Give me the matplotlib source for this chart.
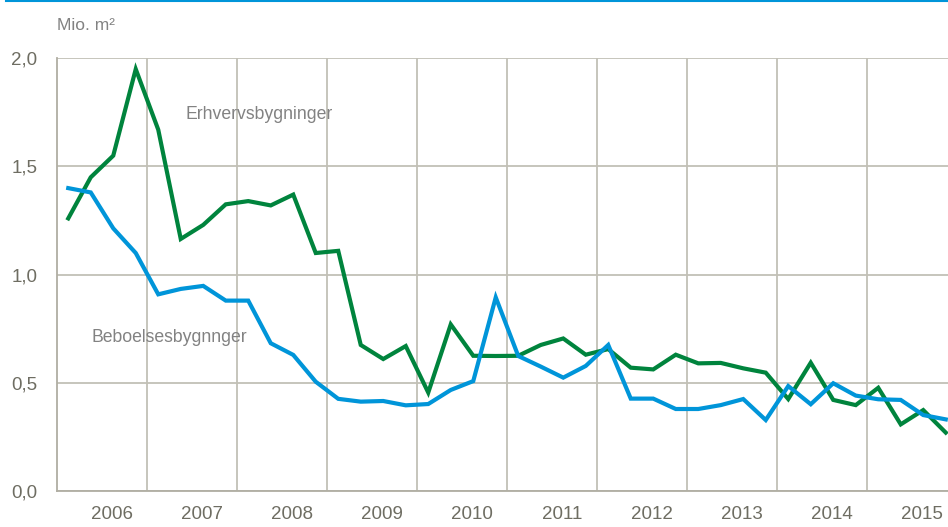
import numpy as np
import matplotlib
matplotlib.use('Agg')
import matplotlib.pyplot as plt
from matplotlib.lines import Line2D

# quarterly values, 2006 Q1 .. 2015 Q4 (mio. m2)
years = list(range(2006, 2016))
erhverv = [1.26, 1.45, 1.55, 1.95, 1.67, 1.165, 1.23, 1.325, 1.34, 1.32,
           1.37, 1.10, 1.11, 0.675, 0.61, 0.67, 0.455, 0.77, 0.625, 0.624,
           0.625, 0.675, 0.705, 0.63, 0.656, 0.57, 0.562, 0.63, 0.59, 0.592,
           0.567, 0.547, 0.425, 0.593, 0.421, 0.397, 0.477, 0.308, 0.374, 0.27]
bebo = [1.40, 1.38, 1.214, 1.10, 0.909, 0.934, 0.948, 0.88, 0.88, 0.683,
        0.629, 0.505, 0.426, 0.413, 0.416, 0.396, 0.402, 0.467, 0.508, 0.895,
        0.624, 0.575, 0.524, 0.578, 0.675, 0.427, 0.427, 0.379, 0.379, 0.397,
        0.425, 0.328, 0.485, 0.401, 0.498, 0.441, 0.424, 0.421, 0.351, 0.331]

t = 2006 + np.arange(len(erhverv)) / 4 + 0.125

plt.rcParams['font.family'] = ['Liberation Sans', 'DejaVu Sans']

grid_c = '#C2C0B6'
txt_c = '#6E6D62'

fig = plt.figure(figsize=(9.48, 5.27), dpi=100)
ax = fig.add_axes([57/948, 1 - 491/527, 1 - 57/948, (491 - 58.3)/527])

ax.plot(t, erhverv, color='#00843D', lw=3, solid_joinstyle='miter', zorder=3)
ax.plot(t, bebo, color='#0095D9', lw=3, solid_joinstyle='miter', zorder=3)

ax.set_xlim(2006, 2006 + 891/90)
ax.set_ylim(0, 2.0)

ax.set_yticks([0, 0.5, 1.0, 1.5, 2.0])
ax.set_yticklabels(['0,0', '0,5', '1,0', '1,5', '2,0'])
ax.set_xticks(range(2007, 2016))
ax.set_xticklabels([])
ax.set_xticks([y + 0.61 for y in years], minor=True)
ax.set_xticklabels([str(y) for y in years], minor=True)

ax.grid(True, which='major', color=grid_c, lw=1.3, zorder=0)
ax.tick_params(axis='both', which='both', length=0, labelsize=13.5, colors=txt_c)
ax.tick_params(axis='y', pad=14)
ax.tick_params(axis='x', which='minor', pad=11)

for s in ['top', 'right']:
    ax.spines[s].set_visible(False)
for s in ['left', 'bottom']:
    ax.spines[s].set_color('#B0AEA3')
    ax.spines[s].set_linewidth(1.3)

ax.text(2007.43, 1.74, 'Erhvervsbygninger', fontsize=12.7, color='#828282', va='center')
ax.text(2006.38, 0.71, 'Beboelsesbygnnger', fontsize=12.7, color='#828282', va='center')

fig.text(57/948, 1 - 26/527, 'Mio. m²', fontsize=12.5, color='#828282', va='center')

# blue rule along the top edge
fig.add_artist(Line2D([6/948, 1], [1 - 1/527, 1 - 1/527], color='#0095D9', lw=1.5,
                      transform=fig.transFigure))

fig.savefig('out.png', dpi=100)
